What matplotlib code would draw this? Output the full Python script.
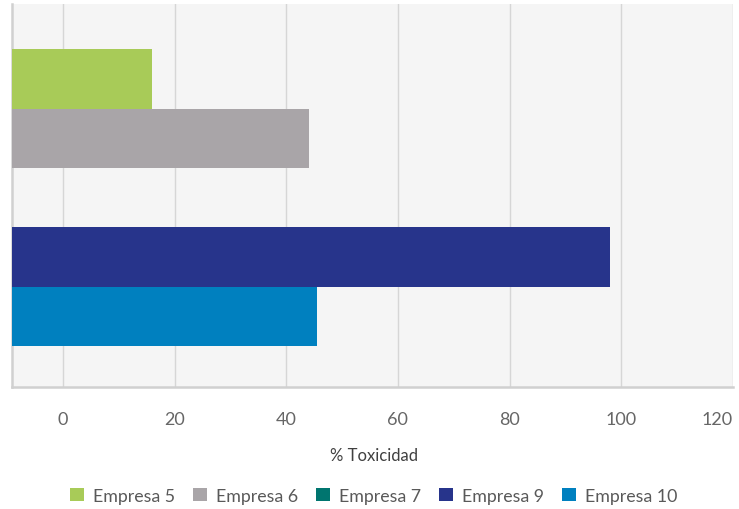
import matplotlib
matplotlib.use("Agg")
import matplotlib.pyplot as plt
from matplotlib.patches import Patch

plt.rcParams['font.family'] = ['Lato', 'DejaVu Sans']

# Data
series_names = ["Empresa 5", "Empresa 6", "Empresa 7", "Empresa 9", "Empresa 10"]
series_colors = ["#a8cb58", "#a9a5a8", "#00756f", "#27348b", "#0080bf"]
# group index (0 = top group, 1 = bottom group), None = no bar drawn
series_group = [0, 0, None, 1, 1]
series_values = [16, 44, None, 98, 45.5]
x_ticks = [0, 20, 40, 60, 80, 100, 120]
x_label = "% Toxicidad"

x_min, x_max = -9.1, 120

fig = plt.figure(figsize=(7.39, 5.10), dpi=100)
ax = fig.add_axes([12/739, (510-388)/510, (733-12)/739, (388-5)/510])
ax.set_facecolor("#f5f5f5")

h = 1/3
group_center = {0: 1.0, 1: 0.0}
slot = {}
for i, g in enumerate(series_group):
    if g is None:
        continue
    slot.setdefault(g, []).append(i)
for g, idxs in slot.items():
    n = len(idxs)
    for k, i in enumerate(idxs):
        y = group_center[g] + (n - 1) / 2 * h - k * h
        ax.barh(y, series_values[i] - x_min, left=x_min, height=h,
                color=series_colors[i], edgecolor="none", zorder=3)

ax.set_xlim(x_min, x_max)
ax.set_ylim(-0.563, 1.587)
ax.set_xticks(x_ticks)
ax.set_xticklabels([str(t) for t in x_ticks])
ax.set_yticks([])
ax.grid(axis="x", color="#d6d6d6", linewidth=1.0, zorder=1)
ax.tick_params(axis="x", length=0, pad=17, labelsize=13, labelcolor="#666666")
labels = ax.get_xticklabels()
labels[-1].set_horizontalalignment("right")

for s in ["top", "right"]:
    ax.spines[s].set_visible(False)
for s in ["left", "bottom"]:
    ax.spines[s].set_color("#d0d0d0")
    ax.spines[s].set_linewidth(1.8)

fig.text(374/739, 1 - 456/510, x_label, ha="center", va="center",
         fontsize=12, color="#404040")

handles = [Patch(facecolor=c, edgecolor="none") for c in series_colors]
fig.legend(handles, series_names, loc="center", bbox_to_anchor=(374/739, 1 - 497/510),
           ncol=5, frameon=False, fontsize=12.8, handlelength=0.75, handleheight=0.75,
           handletextpad=0.55, columnspacing=1.0, labelcolor="#595959")

fig.savefig("out.png", dpi=100)
